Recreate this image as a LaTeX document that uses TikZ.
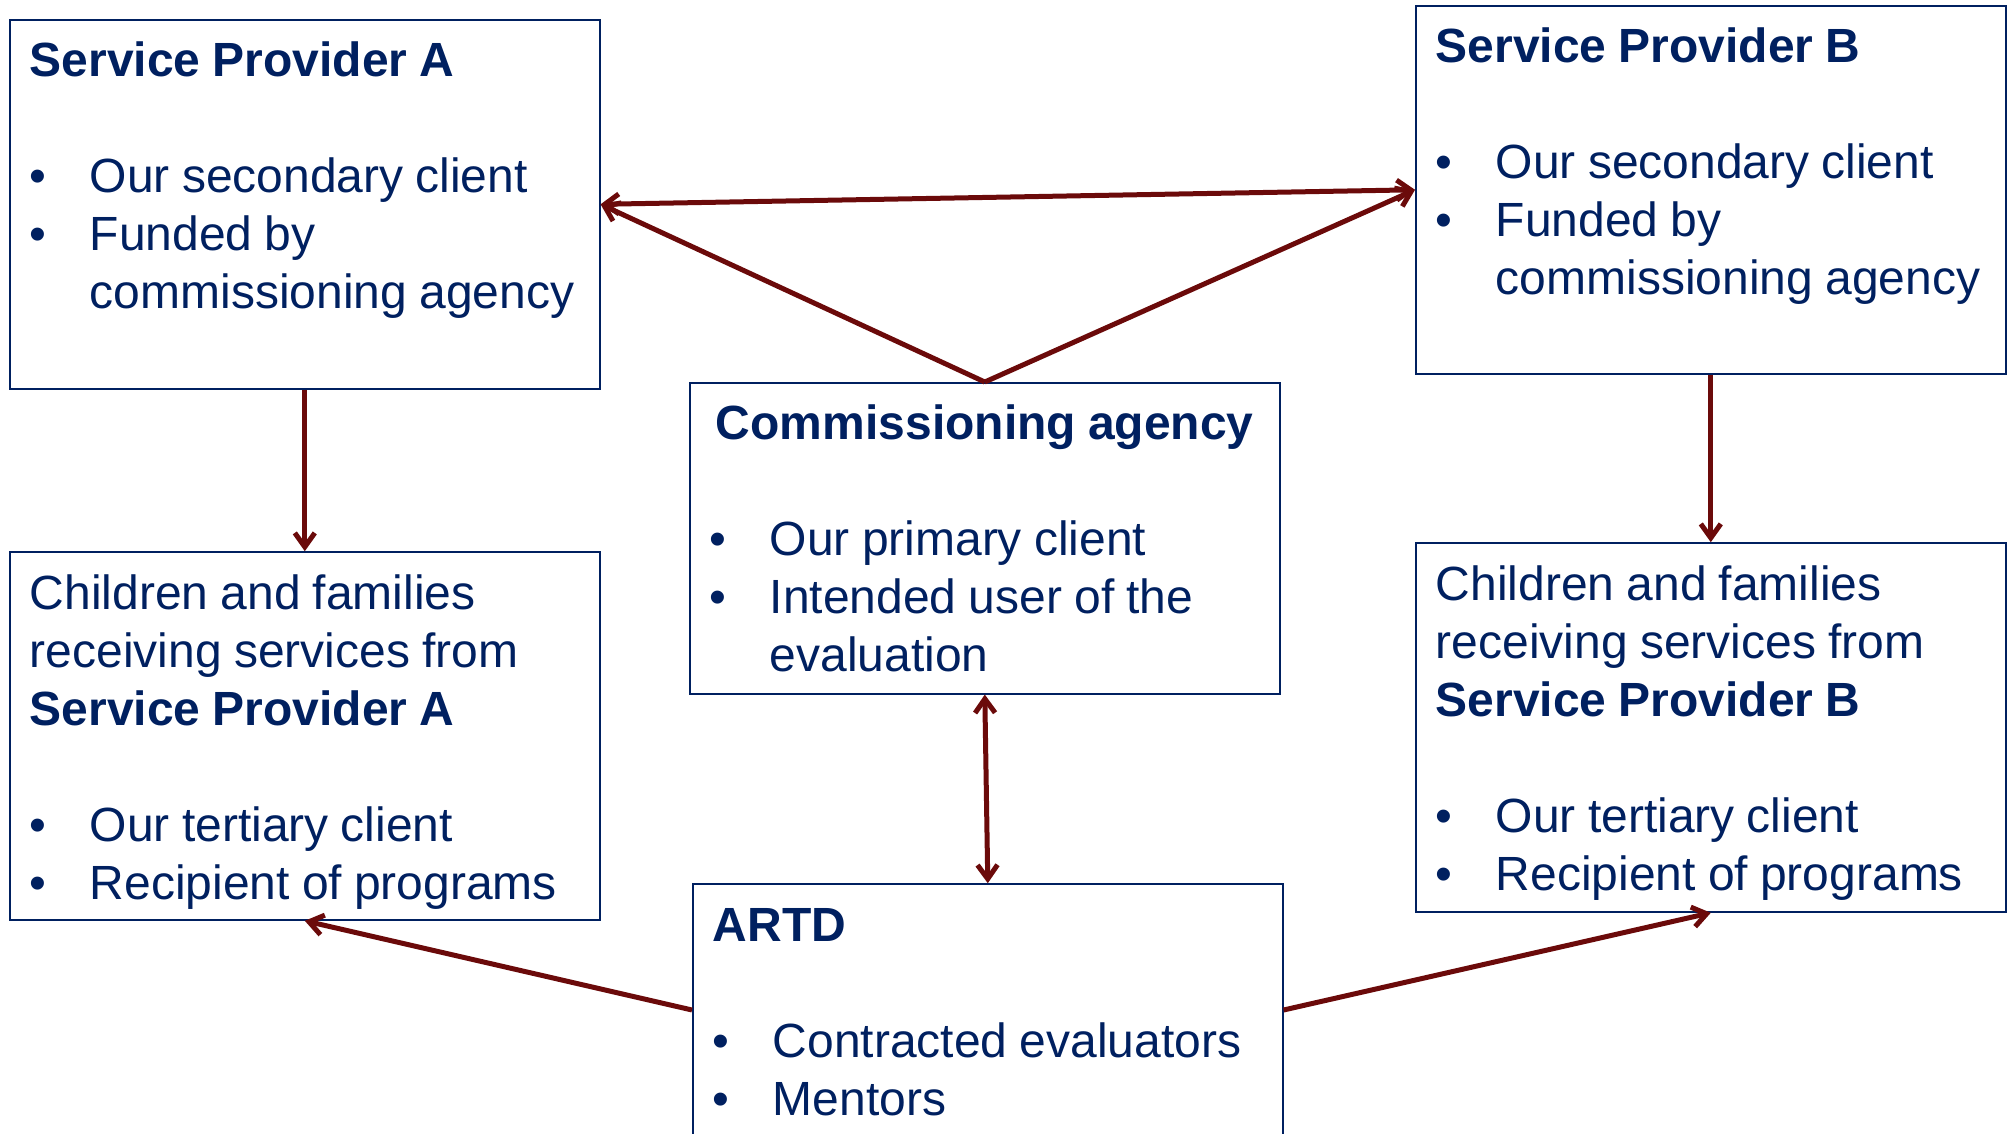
\documentclass[tikz,border=0pt]{standalone}
\usepackage{fontspec}
\setmainfont{Liberation Sans}
\usepackage{xcolor}
\usepackage{tikz}
\usetikzlibrary{arrows.meta,positioning}
\definecolor{navy}{HTML}{002060}
\definecolor{wine}{HTML}{6B0A0A}
\tikzset{
   party/.style={%#1 is how far the box reaches below the first baseline
      draw=navy, line width=0.8pt, text=navy,
      anchor=north west,
      inner xsep=10pt, inner ysep=0pt,
      text width=275pt, execute at begin node={\raggedright\spaceskip=6.1pt\relax},
      text height=28.5pt, text depth=#1,
      font=\fontsize{24}{29}\selectfont},
   party/.default=156pt,
   >={Straight Barb[length=7pt,width=10pt]},
   link/.style={draw=wine, line width=2.5pt, ->},
   twoway/.style={link, <->}
}
\newcommand{\heading}[1]{{\bfseries #1}\par\vspace{29pt}}
\newcommand{\bitem}[1]{\par\hangindent=30pt\hangafter=1\noindent\makebox[30pt][l]{\textbullet}#1\par}

\begin{document}
\begin{tikzpicture}[x=0.5pt, y=-0.5pt]
  \useasboundingbox (0,0) rectangle (2009,1134);
  \clip (0,0) rectangle (2009,1134);
  \node[party] (spA) at (9,19) {\heading{Service Provider A}%
    \bitem{Our secondary client}\bitem{Funded by\newline commissioning agency}};
  \node[party=155.5pt] (spB) at (1415,5) {\heading{Service Provider B}%
    \bitem{Our secondary client}\bitem{Funded by\newline commissioning agency}};
  \node[party=127pt] (comm) at (689,382) {{\centering\bfseries Commissioning agency\par}\vspace{29pt}%
    \bitem{Our primary client}\bitem{Intended user of the\newline evaluation}};
  \node[party=155.5pt, below=80.8pt of spA] (kidsA) {Children and families\newline
    receiving services from\newline \heading{Service Provider A}%
    \bitem{Our tertiary client}\bitem{Recipient of programs}};
  \node[party, below=83.8pt of spB] (kidsB) {Children and families\newline
    receiving services from\newline \heading{Service Provider B}%
    \bitem{Our tertiary client}\bitem{Recipient of programs}};
  \node[party=97.5pt, below=94.3pt of comm, xshift=1.5pt] (artd) {\heading{ARTD}%
    \bitem{Contracted evaluators}\bitem{Mentors}};
  % relationships
  \draw[twoway] (spA.east) -- (spB.west);
  \draw[link] (comm.north) -- (spA.east);
  \draw[link] (comm.north) -- (spB.west);
  \draw[link] (spA.south) -- (kidsA.north);
  \draw[link] (spB.south) -- (kidsB.north);
  \draw[twoway] (comm.south) -- (artd.north);
  \draw[link] (artd.west) -- (kidsA.south);
  \draw[link] (artd.east) -- (kidsB.south);
\end{tikzpicture}
\end{document}
